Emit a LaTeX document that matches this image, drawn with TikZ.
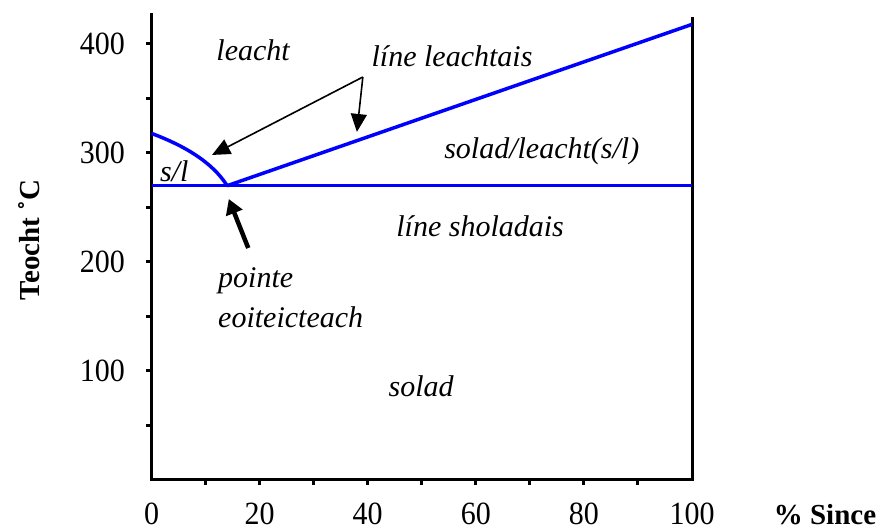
\documentclass[tikz,border=0pt]{standalone}
\usepackage{fontspec}
\setmainfont{Liberation Serif}
\usetikzlibrary{arrows.meta}

\begin{document}
\begin{tikzpicture}[
    x=1pt, y=1pt,
    lbl/.style={font=\fontsize{30}{40}\selectfont\itshape, inner sep=0pt},
    num/.style={font=\fontsize{30}{34}\selectfont, inner sep=0pt, yscale=1.08},
    axtitle/.style={font=\fontsize{29}{34}\selectfont\bfseries, inner sep=0pt},
    axisline/.style={line width=3pt},
    phase/.style={blue, line width=3.5pt, line join=round},
    pointer/.style={-{Triangle[length=18pt, width=16pt]}, line width=1.6pt},
    bigpointer/.style={-{Triangle[length=15pt, width=17pt]}, line width=4.5pt}
]
\useasboundingbox (0,0) rectangle (884,530);

\begin{scope}[shift={(151.5,50)}, x=5.405pt, y=1.09pt]

% ---- Axes ----
\draw[axisline] (0,428.4) -- (0,0) -- (100,0) -- (100,424.8);
\foreach \t in {50,100,...,400}
    \draw[axisline] (0,\t) -- ++(-6pt,0);
\foreach \t in {10,20,...,90}
    \draw[axisline] (\t,0) -- ++(0,-5pt);

\foreach \t in {100,200,300,400}
    \node[num, anchor=east] (yl\t) at (-4.9,\t) {\t};
\foreach \t in {0,20,...,100}
    \node[num, anchor=base] (xl\t) at (\t,-41) {\t};

\node[axtitle, anchor=base] (xtitle) at (124.6,-41) {\% Since};
\node[axtitle, rotate=90, anchor=base] (ytitle) at (-20.8,220) {Teocht ˚C};

% ---- Phase lines ----
\coordinate (liqstart) at (0,318);
\coordinate (eut) at (14,270);
\draw[phase] (liqstart) .. controls (6.2,306.4) and (11.2,291.7) .. (eut);
\draw[phase] (0,270) -- (100,270);
\draw[phase] (eut) -- (100,418);

% ---- Region labels ----
\node[lbl, anchor=base] (liq) at (18.8,385) {leacht};
\node[lbl, anchor=base] (liqline) at (55.6,379) {líne leachtais};
\node[lbl, anchor=base] (mix) at (72.2,294.5) {solad/leacht(s/l)};
\node[lbl, anchor=base] (mixL) at (4.2,273.4) {s/l};
\node[lbl, anchor=base] (solline) at (60.8,223) {líne sholadais};
\node[lbl, anchor=base west, align=left] (eutlbl) at (12.3,139.5)
    {pointe\\eoiteicteach};
\node[lbl, anchor=base] (sol) at (49.9,77) {solad};

% ---- Pointers ----
\coordinate (apex) at (39.1,369.7);
\coordinate (tipL) at (11.2,298.2);
\coordinate (tipR) at (38.0,319.3);
\coordinate (eutTail) at (17.9,212.8);
\coordinate (eutTip) at (14.3,257.8);

\draw[pointer] (apex) -- (tipL);
\draw[pointer] (apex) -- (tipR);
\draw[bigpointer] (eutTail) -- (eutTip);

\end{scope}
\end{tikzpicture}
\end{document}
